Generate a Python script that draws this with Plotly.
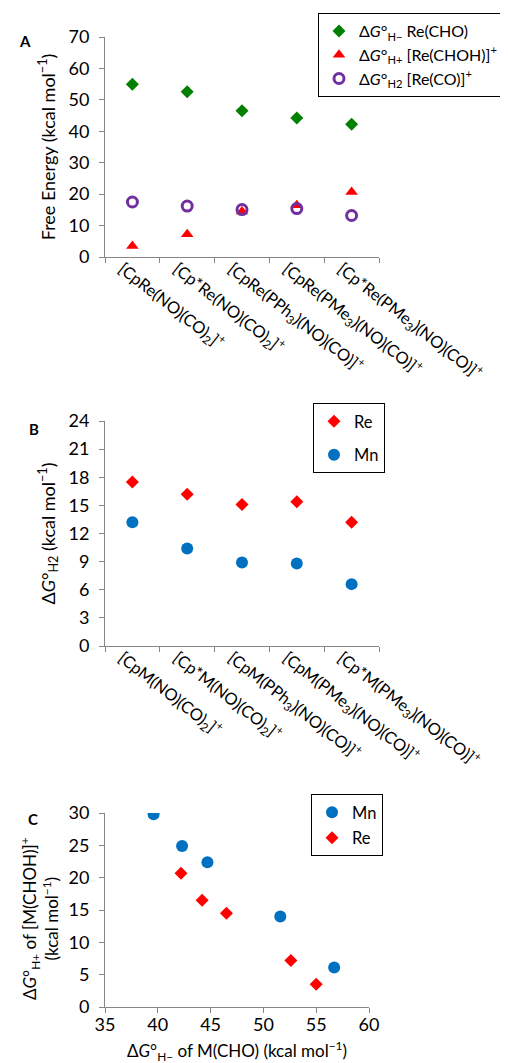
import plotly.graph_objects as go

# ---------------- data ----------------
complexes_re = [
    "[CpRe(NO)(CO)<sub>2</sub>]<sup>+</sup>",
    "[Cp*Re(NO)(CO)<sub>2</sub>]<sup>+</sup>",
    "[CpRe(PPh<sub>3</sub>)(NO)(CO)]<sup>+</sup>",
    "[CpRe(PMe<sub>3</sub>)(NO)(CO)]<sup>+</sup>",
    "[Cp*Re(PMe<sub>3</sub>)(NO)(CO)]<sup>+</sup>",
]
complexes_m = [
    "[CpM(NO)(CO)<sub>2</sub>]<sup>+</sup>",
    "[Cp*M(NO)(CO)<sub>2</sub>]<sup>+</sup>",
    "[CpM(PPh<sub>3</sub>)(NO)(CO)]<sup>+</sup>",
    "[CpM(PMe<sub>3</sub>)(NO)(CO)]<sup>+</sup>",
    "[Cp*M(PMe<sub>3</sub>)(NO)(CO)]<sup>+</sup>",
]
re_hydride = [55.0, 52.6, 46.5, 44.2, 42.2]     # ΔG°H− Re(CHO)
re_proton = [3.5, 7.2, 14.5, 16.5, 20.7]        # ΔG°H+ [Re(CHOH)]+
re_h2 = [17.5, 16.2, 15.1, 15.4, 13.2]          # ΔG°H2 [Re(CO)]+
mn_h2 = [13.2, 10.4, 8.9, 8.8, 6.6]
mn_hydride = [56.7, 51.6, 44.7, 42.3, 39.6]
mn_proton = [6.1, 14.0, 22.4, 24.9, 29.8]

FONT = "Lato"
FS = 18
LFS = 16.5
CFS = 16.5
GREEN = "#008000"
RED = "#FF0000"
PURPLE = "#7030A0"
BLUE = "#0070C0"
AXC = "#868686"

W, H = 508, 1063

def xd(a, b):
    return [a / W, b / W]

def yd(top, bottom):
    return [1 - bottom / H, 1 - top / H]

fig = go.Figure()

# ---- Panel A ----
fig.add_trace(go.Scatter(
    x=complexes_re, y=re_hydride, mode="markers",
    name="Δ<i>G</i>°<sub>H−</sub> Re(CHO)",
    marker=dict(symbol="diamond", size=10, color=GREEN),
    xaxis="x", yaxis="y", legend="legend"))
fig.add_trace(go.Scatter(
    x=complexes_re, y=re_proton, mode="markers",
    name="Δ<i>G</i>°<sub>H+</sub> [Re(CHOH)]<sup>+</sup>",
    marker=dict(symbol="triangle-up", size=11, color=RED),
    xaxis="x", yaxis="y", legend="legend"))
fig.add_trace(go.Scatter(
    x=complexes_re, y=re_h2, mode="markers",
    name="Δ<i>G</i>°<sub>H2</sub> [Re(CO)]<sup>+</sup>",
    marker=dict(symbol="circle-open", size=10, color=PURPLE, line=dict(width=3, color=PURPLE)),
    xaxis="x", yaxis="y", legend="legend"))

# ---- Panel B ----
fig.add_trace(go.Scatter(
    x=complexes_m, y=re_h2, mode="markers", name="Re",
    marker=dict(symbol="diamond", size=10, color=RED),
    xaxis="x2", yaxis="y2", legend="legend2", legendgroup="bre"))
fig.add_trace(go.Scatter(
    x=complexes_m, y=mn_h2, mode="markers", name="Mn",
    marker=dict(symbol="circle", size=12, color=BLUE),
    xaxis="x2", yaxis="y2", legend="legend2", legendgroup="bmn"))

# ---- Panel C ----
fig.add_trace(go.Scatter(
    x=mn_hydride, y=mn_proton, mode="markers", name="Mn",
    marker=dict(symbol="circle", size=12, color=BLUE),
    xaxis="x3", yaxis="y3", legend="legend3", legendgroup="cmn"))
fig.add_trace(go.Scatter(
    x=re_hydride, y=re_proton, mode="markers", name="Re",
    marker=dict(symbol="diamond", size=10, color=RED),
    xaxis="x3", yaxis="y3", legend="legend3", legendgroup="cre"))

axis_common = dict(showline=True, linecolor=AXC, linewidth=1, showgrid=False, zeroline=False,
                   ticks="outside", ticklen=5, tickcolor=AXC, automargin=False,
                   tickfont=dict(family=FONT, size=FS, color="#000"))

cat_axis = dict(axis_common, type="category", range=[-0.5, 4.5], tickson="boundaries",
                tickangle=38, fixedrange=True, ticklabelshift=-10, ticklabelstandoff=-5,
                tickfont=dict(family=FONT, size=CFS, color="#000"))

legend_common = dict(xanchor="left", yanchor="top", bordercolor="#000", borderwidth=1,
                     bgcolor="white", font=dict(family=FONT, size=LFS), itemwidth=30)

fig.update_layout(
    width=W, height=H, margin=dict(l=0, r=0, t=0, b=0, autoexpand=False),
    paper_bgcolor="white", plot_bgcolor="white",
    font=dict(family=FONT, size=FS, color="#000"),
    xaxis=dict(cat_axis, domain=xd(97, 371), anchor="y"),
    yaxis=dict(axis_common, domain=yd(29, 249), range=[0, 70], dtick=10, anchor="x",
               ticklabelstandoff=6,
               title=dict(text="Free Energy (kcal mol<sup>−1</sup>)", standoff=8,
                          font=dict(family=FONT, size=FS))),
    xaxis2=dict(cat_axis, domain=xd(97, 371), anchor="y2"),
    yaxis2=dict(axis_common, domain=yd(413, 638), range=[0, 24], dtick=3, anchor="x2",
                ticklabelstandoff=6,
                title=dict(text="Δ<i>G</i>°<sub>H2</sub> (kcal mol<sup>−1</sup>)", standoff=8,
                           font=dict(family=FONT, size=FS))),
    xaxis3=dict(axis_common, domain=xd(97, 361), range=[35, 60], dtick=5, anchor="y3",
                ticklabelstandoff=-4),
    yaxis3=dict(axis_common, domain=yd(805, 999), range=[0, 30], dtick=5, anchor="x3",
                ticklabelstandoff=6),
    legend=dict(legend_common, x=310 / W, y=1 - 5 / H, font=dict(family=FONT, size=16)),
    legend2=dict(legend_common, x=305 / W, y=1 - 395 / H,
                 traceorder="grouped", tracegroupgap=9),
    legend3=dict(legend_common, x=303 / W, y=1 - 786 / H,
                 traceorder="grouped", tracegroupgap=1),
    showlegend=True,
)

# axis titles of panel C (placed like the reference)
fig.add_annotation(text="Δ<i>G</i>°<sub>H+</sub> of [M(CHOH)]<sup>+</sup><br>(kcal mol<sup>−1</sup>)",
                   x=31 / W, y=1 - 911 / H, xref="paper", yref="paper", textangle=-90,
                   showarrow=False, xanchor="center", yanchor="middle",
                   font=dict(family=FONT, size=17, color="#000"))
fig.add_annotation(text="Δ<i>G</i>°<sub>H−</sub> of M(CHO) (kcal mol<sup>−1</sup>)",
                   x=229 / W, y=1 - 1043 / H, xref="paper", yref="paper",
                   showarrow=False, xanchor="center", yanchor="middle",
                   font=dict(family=FONT, size=17, color="#000"))

for txt, px, py in [("A", 17, 33), ("B", 26, 421), ("C", 25, 811)]:
    fig.add_annotation(text="<b>%s</b>" % txt, x=px / W, y=1 - py / H, xref="paper", yref="paper",
                       showarrow=False, font=dict(family=FONT, size=15, color="#000"),
                       xanchor="center", yanchor="middle")

fig.write_html("out.html")
